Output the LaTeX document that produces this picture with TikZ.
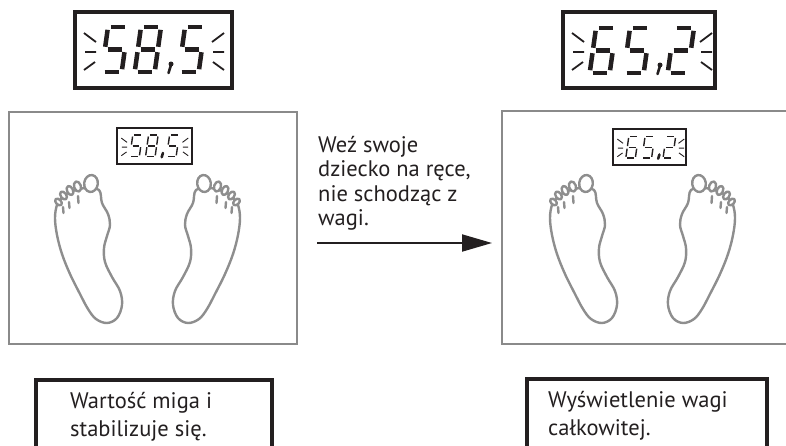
\documentclass[tikz,border=0pt]{standalone}
\usepackage{fontspec}
\setmainfont{PT Sans}
\usetikzlibrary{arrows.meta}

\definecolor{ink}{HTML}{231F20}
\definecolor{plate}{HTML}{8A8A8A}
\definecolor{footc}{HTML}{8E8E8E}

\tikzset{
  platform/.style={draw=plate, line width=2.2pt},
  footline/.style={draw=footc, line width=2.4pt, line join=round, line cap=round},
  lcdbox/.style={draw=ink, line width=4pt},
  lcdray/.style={draw=ink, line width=1.8pt},
  lcdseg/.style={draw=ink, line width=4.5pt},
  lcddot/.style={fill=ink},
  caption/.style={draw=ink, line width=4pt},
  note/.style={font=\fontsize{22.5pt}{28pt}\selectfont, text=ink, align=left, inner sep=0pt, anchor=base west},
  hint/.style={font=\fontsize{22.5pt}{24.5pt}\selectfont, text=ink, align=left, inner sep=0pt, anchor=base west},
  flow/.style={draw=ink, line width=2pt, -{Triangle[length=30pt,width=17pt]}},
}

% seven-segment pieces, digit frame 20 x 45, y downwards
\newcommand\sA{\draw[lcdseg] (2.8,0) -- (17.2,0);}
\newcommand\sB{\draw[lcdseg] (20,2.8) -- (20,19.8);}
\newcommand\sC{\draw[lcdseg] (20,25.2) -- (20,42.2);}
\newcommand\sD{\draw[lcdseg] (2.8,45) -- (17.2,45);}
\newcommand\sE{\draw[lcdseg] (0,25.2) -- (0,42.2);}
\newcommand\sF{\draw[lcdseg] (0,2.8) -- (0,19.8);}
\newcommand\sG{\draw[lcdseg] (2.8,22.5) -- (17.2,22.5);}
\newcommand\digitat[2]{\begin{scope}[shift={#1}, xslant=0.14]#2\end{scope}}
\newcommand\lcdcomma[1]{\begin{scope}[shift={#1}]
  \fill[lcddot] (0,0) circle (2.5);
  \draw[lcdseg, line width=2.6pt, line cap=round] (0,1) -- (-2.5,9);\end{scope}}

% display frame of the given width, height 76, flashing rays on both sides
\newcommand\lcdframe[1]{%
  \draw[lcdbox] (0,0) rectangle (#1,76);
  \draw[lcdray] (9,21) -- (21,30) (10,40) -- (21,40) (9,58) -- (20,50);
  \draw[lcdray] (149,21) -- (137,30) (138,40) -- (149,40) (138,50) -- (149,58);}

\newcommand\readingA{%
  \lcdframe{157}
  \digitat{(33,15)}{\sA\sF\sG\sC\sD}
  \digitat{(66,15)}{\sA\sB\sC\sD\sE\sF\sG}
  \lcdcomma{(96,52)}
  \digitat{(110,15)}{\sA\sF\sG\sC\sD}}
\newcommand\readingB{%
  \lcdframe{152}
  \digitat{(33,16)}{\sA\sF\sG\sE\sC\sD}
  \digitat{(67,16)}{\sA\sF\sG\sC\sD}
  \lcdcomma{(97,53)}
  \digitat{(111,16)}{\sA\sB\sG\sE\sD}}

% left foot; the right one is its mirror image
\newcommand\foot{%
  \draw[footline] plot[smooth cycle, tension=0.6] coordinates {
    (99,190) (102,203) (108,214) (110,225) (107,236) (104,248) (105,262)
    (112,277) (120,291) (122,305) (117,318) (107,323) (96,319) (88,309)
    (80,294) (70,274) (62,254) (57,235) (55,218) (57,205) (62,198)
    (68,193) (76,190) (86,188)};
  \draw[footline, fill=white, rotate around={45:(58.5,202)}] (58.5,202) ellipse [x radius=2.6, y radius=4];
  \draw[footline, fill=white, rotate around={35:(63.5,195.5)}] (63.5,195.5) ellipse [x radius=2.8, y radius=4.4];
  \draw[footline, fill=white, rotate around={25:(70,190.5)}] (70,190.5) ellipse [x radius=3, y radius=4.8];
  \draw[footline, fill=white, rotate around={18:(77.5,186.5)}] (77.5,186.5) ellipse [x radius=3.4, y radius=5.2];
  \draw[footline, fill=white, rotate around={-8:(91,183.5)}] (91,183.5) ellipse [x radius=6.8, y radius=8.5];
  \draw[footline] (63,207) -- (63.5,213) (69,202) -- (69.5,208) (78,196) -- (78.5,203);}

\newcommand\scalescene{%
  \foot
  \begin{scope}[shift={(295,0)}, xscale=-1]\foot\end{scope}}

\begin{document}
\begin{tikzpicture}[x=1pt, y=-1pt]
\useasboundingbox (0,0) rectangle (786,445);
\clip (0,0) rectangle (786,445);

% large readings above the two scales
\begin{scope}[shift={(75,12)}]\readingA\end{scope}
\begin{scope}[shift={(563,12)}]\readingB\end{scope}

% left scale
\draw[platform] (9,112) rectangle (297,344);
\scalescene
\begin{scope}[shift={(117,128)}, scale=0.478,
    lcdbox/.style={draw=ink, line width=2pt},
    lcdray/.style={draw=ink, line width=0.9pt},
    lcdseg/.style={draw=ink, line width=1.4pt}]
  \readingA
\end{scope}

% right scale
\begin{scope}[shift={(495,0)}]
  \draw[platform] (7,111) rectangle (299,344);
  \scalescene
\end{scope}
\begin{scope}[shift={(613,129)}, scale=0.478,
    lcdbox/.style={draw=ink, line width=2pt},
    lcdray/.style={draw=ink, line width=0.9pt},
    lcdseg/.style={draw=ink, line width=1.4pt}]
  \readingB
\end{scope}

% instruction and arrow between the scales
\node[hint] (instr) at (318,225.5) {Weź swoje\\dziecko na ręce,\\nie schodząc z\\wagi.};
\coordinate (arrS) at (317,243);
\coordinate (arrE) at (492,243);
\draw[flow] (arrS) -- (arrE);

% captions below
\draw[caption] (36,460) -- (36,380) -- (272,380) -- (272,460);
\node[note] (capL) at (70,436) {Wartość miga i\\stabilizuje się.};
\draw[caption] (527,460) -- (527,379) -- (767,379) -- (767,460);
\node[note] (capR) at (548,435) {Wyświetlenie wagi\\całkowitej.};
\end{tikzpicture}
\end{document}
